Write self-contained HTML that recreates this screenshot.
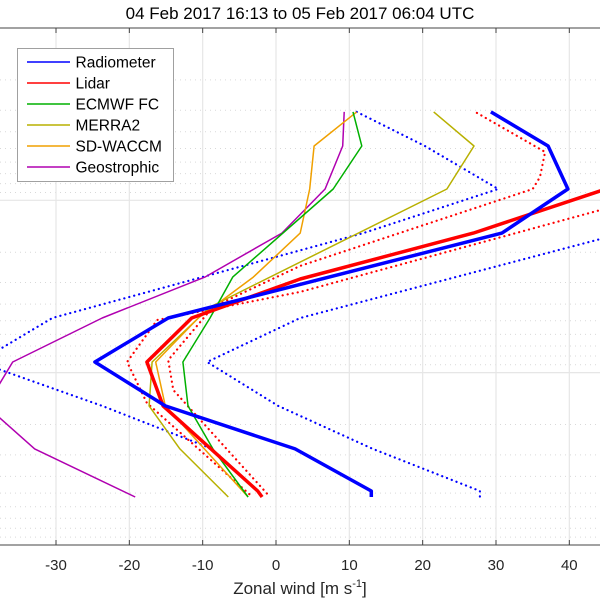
<!DOCTYPE html>
<html><head><meta charset="utf-8"><style>
html,body{margin:0;padding:0;background:#fff;}
svg{display:block;font-family:"Liberation Sans",sans-serif;}
</style></head><body>
<svg id="chart" width="600" height="600" viewBox="0 0 600 600" xmlns="http://www.w3.org/2000/svg">
<rect width="600" height="600" fill="#fff"/>
<text x="300" y="19" text-anchor="middle" font-size="17" fill="#000">04 Feb 2017 16:13 to 05 Feb 2017 06:04 UTC</text>
<defs><clipPath id="plotclip"><rect x="0" y="28" width="600" height="517"/></clipPath></defs>
<g id="grid"></g>
<g id="series" clip-path="url(#plotclip)"></g>
<g id="axes"></g>
<g id="legend"></g>
</svg>
<script>
// ---- data (wind m/s vs pressure hPa) ----
const xTicks = [-30, -20, -10, 0, 10, 20, 30, 40];
const xTickLabels = ["-30", "-20", "-10", "0", "10", "20", "30", "40"];
const radP = [3.07, 4.84, 8.6, 15.5, 48.2, 86.7, 156, 277, 486, 527];
const radU = [29.3, 37.1, 39.8, 30.8, -14.7, -24.7, -15.1, 2.6, 13.0, 13.0];
const radLoP = [3.07, 4.84, 8.6, 15.5, 48.2, 86.7, 156, 277];
const radLoU = [11.0, 20.3, 30.3, 11.9, -30.5, -40.6, -23.7, -8.7];
const radHiP = [15.5, 48.2, 86.7, 156, 277, 486, 527];
const radHiU = [47.3, 3.3, -9.4, 0.3, 13.2, 27.8, 27.8];
const lidP = [8.6, 15.5, 28.6, 48.2, 86.7, 156, 486, 527];
const lidU = [45.0, 26.9, 3.3, -11.5, -17.6, -15.4, -2.5, -1.9];
const lidAP = [3.11, 5.24, 7.32, 8.6, 24.0, 41.6, 84.5, 126, 527];
const lidAU = [27.4, 36.7, 36.0, 35.0, 3.3, -8.6, -14.7, -14.0, -0.8];
const lidBP = [8.7, 11.4, 34.0, 49.5, 86.7, 150, 513];
const lidBU = [51.0, 44.2, 3.3, -16.2, -20.3, -17.6, -3.5];
const ecmP = [3.07, 4.84, 8.6, 27.9, 48.2, 86.7, 156, 277, 527];
const ecmU = [10.5, 11.7, 7.8, -5.9, -9.0, -12.7, -12.0, -8.6, -3.8];
const merP = [3.07, 4.84, 8.6, 41.6, 86.7, 156, 277, 527];
const merU = [21.5, 27.0, 23.3, -9.0, -16.9, -17.3, -13.1, -6.5];
const wacP = [3.07, 4.84, 8.6, 15.5, 27.9, 48.2, 86.7, 156, 527];
const wacU = [11.0, 5.2, 4.6, 3.3, -3.1, -10.6, -16.4, -15.1, -3.8];
const geoP = [3.07, 4.84, 8.6, 15.5, 27.9, 48.2, 86.7, 156, 277, 527];
const geoU = [9.3, 9.1, 6.7, 0.8, -9.7, -23.7, -35.9, -39.5, -32.9, -19.2];
const legendLabels = ["Radiometer", "Lidar", "ECMWF FC", "MERRA2", "SD-WACCM", "Geostrophic"];

// ---- scales ----
const X0 = 276, XS = 7.333;       // px at 0, px per m/s
const Y0 = 28, DEC = 172.33;      // px at 1 hPa, px per decade
function xs(u){ return X0 + u*XS; }
function ys(p){ return Y0 + Math.log10(p)*DEC; }

const NS = "http://www.w3.org/2000/svg";
function mk(tag, attrs, parent){
  const el = document.createElementNS(NS, tag);
  for (const k in attrs) el.setAttribute(k, attrs[k]);
  parent.appendChild(el);
  return el;
}
const grid = document.getElementById('grid');
const axes = document.getElementById('axes');
const series = document.getElementById('series');
const legend = document.getElementById('legend');

// horizontal grid (log pressure 1..1000)
for (let d = 0; d < 3; d++) {
  for (let m = 1; m <= 9; m++) {
    const p = m * Math.pow(10, d);
    if (p === 1) continue;
    const y = ys(p);
    const ln = mk('line', {x1:0, x2:600, y1:y, y2:y, stroke: m===1 ? '#e6e6e6' : '#d9d9d9', 'stroke-width': m===1 ? 1.2 : 1, 'stroke-dasharray': m===1 ? 'none' : '1 4'}, grid);
    
    
  }
}
// vertical grid + ticks + labels
xTicks.forEach((t, i) => {
  const x = xs(t);
  const g = mk('line', {x1:x, x2:x, y1:28, y2:545, stroke:'#e6e6e6', 'stroke-width':1.2}, grid);
  
  
  const tb = mk('line', {x1:x, x2:x, y1:545, y2:540, stroke:'#444', 'stroke-width':1}, axes);
  
  
  const tt = mk('line', {x1:x, x2:x, y1:28, y2:33, stroke:'#444', 'stroke-width':1}, axes);
  
  
  const lb = mk('text', {x:x, y:570, 'text-anchor':'middle', 'font-size':15, fill:'#262626'}, axes);
  lb.textContent = xTickLabels[i];
  
  
});
const topAx = mk('line', {x1:0, x2:600, y1:28, y2:28, stroke:'#444', 'stroke-width':1}, axes);


const botAx = mk('line', {x1:0, x2:600, y1:545, y2:545, stroke:'#444', 'stroke-width':1}, axes);


const xt = mk('text', {x:300, y:594, 'text-anchor':'middle', 'font-size':17, fill:'#262626'}, axes);


xt.innerHTML = 'Zonal wind [m s<tspan font-size="11" dy="-7">-1</tspan><tspan dy="7">]</tspan>';

// series
function line(P, U, color, width, dotted, name){
  const pts = P.map((p, i) => xs(U[i]).toFixed(1) + ',' + ys(p).toFixed(1)).join(' ');
  const el = mk('polyline', {points: pts, fill:'none', stroke: color, 'stroke-width': width, 'stroke-linejoin':'round', 'stroke-linecap': dotted ? 'round' : 'butt'}, series);
  if (dotted) el.setAttribute('stroke-dasharray', '0.1 5');
  
  
}
line(radLoP, radLoU, '#0000ff', 2.2, true, 'radiometer-lower-bound');
line(radHiP, radHiU, '#0000ff', 2.2, true, 'radiometer-upper-bound');
line(lidAP, lidAU, '#ff0000', 2.2, true, 'lidar-bound-a');
line(lidBP, lidBU, '#ff0000', 2.2, true, 'lidar-bound-b');
line(geoP, geoU, '#b000b0', 1.5, false, 'geostrophic-line');
line(merP, merU, '#b8b000', 1.5, false, 'merra2-line');
line(wacP, wacU, '#f0a000', 1.5, false, 'sd-waccm-line');
line(ecmP, ecmU, '#00b000', 1.5, false, 'ecmwf-fc-line');
line(lidP, lidU, '#ff0000', 3.5, false, 'lidar-line');
line(radP, radU, '#0000ff', 3.5, false, 'radiometer-line');

// legend
const box = mk('rect', {x:17.5, y:48.5, width:156, height:133, fill:'#fff', stroke:'#a0a0a0', 'stroke-width':1}, legend);


const legColors = ['#0000ff', '#ff0000', '#00b000', '#b8b000', '#f0a000', '#b000b0'];
legendLabels.forEach((lab, i) => {
  const y = 62 + i*21;
  const l = mk('line', {x1:27, x2:70, y1:y, y2:y, stroke:legColors[i], 'stroke-width':1.5}, legend);
  
  
  const t = mk('text', {x:75.5, y:y+5.5, 'font-size':15.5, fill:'#000'}, legend);
  t.textContent = lab;
  
  
});
</script>
</body></html>
